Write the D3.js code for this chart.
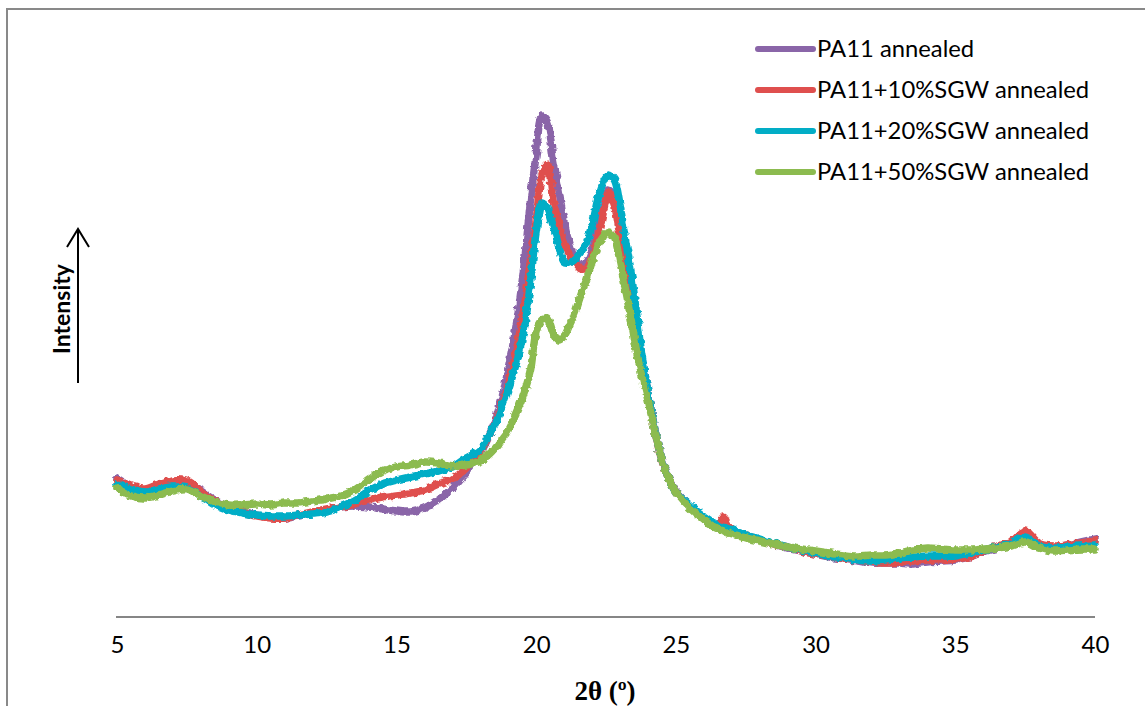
<!DOCTYPE html>
<html>
<head>
<meta charset="utf-8">
<script src="https://cdn.jsdelivr.net/npm/d3@7"></script>
<style>
  html, body { margin: 0; padding: 0; background: #fff; }
  svg { display: block; }
</style>
</head>
<body>
<svg id="chart" width="1145" height="706"></svg>
<script>
// 2θ sampling grid (degrees)
const twoTheta = [
  5, 5.5, 6, 6.5, 7, 7.5, 8, 8.5, 9, 9.5, 10, 10.5, 11, 11.5, 12, 12.5, 13, 13.5, 14, 14.5, 15, 15.5, 16, 16.5, 17, 17.5, 18,
  18.2, 18.4, 18.6, 18.8, 19, 19.2, 19.4, 19.6, 19.8, 20, 20.2, 20.4, 20.6, 20.8, 21, 21.2, 21.4, 21.6, 21.8, 22,
  22.2, 22.4, 22.6, 22.8, 23, 23.2, 23.4, 23.6, 23.8, 24, 24.2, 24.4, 24.6, 24.8,
  25, 25.5, 26, 26.5, 26.7, 27, 27.5, 28, 28.5, 29, 29.5, 30, 30.5, 31, 31.5, 32, 32.5, 33, 33.5, 34, 34.5,
  35, 35.5, 36, 36.5, 37, 37.5, 38, 38.5, 39, 39.5, 40
];

// Diffracted intensity (a.u.) for each sample
const pa11 = [
  138, 130, 127, 131, 136, 135, 126, 117, 110, 106, 102, 100, 99, 101, 104, 107, 110, 111, 110, 108, 106, 105, 109, 117, 129, 145, 164,
  174, 187, 202, 222, 249, 277, 314, 360, 417, 462, 501, 495, 460, 429, 395, 372, 358, 351, 354, 367,
  387, 410, 427, 419, 387, 363, 332, 292, 257, 225, 195, 169, 150, 136,
  126, 111, 99, 91, 89, 86, 81, 77, 73, 69, 66, 63, 60, 58, 56, 54, 54, 54, 53, 55, 56,
  57, 60, 65, 69, 72, 77, 72, 70, 72, 75, 78
];
const pa11Sgw10 = [
  136, 131, 128, 133, 137, 136, 125, 116, 110, 105, 101, 99, 99, 102, 105, 108, 110, 113, 117, 120, 122, 124, 127, 133, 138, 149, 165,
  175, 186, 199, 215, 232, 255, 282, 314, 357, 397, 441, 453, 417, 395, 375, 362, 354, 348, 349, 359,
  379, 405, 425, 412, 382, 357, 327, 289, 254, 223, 193, 167, 148, 135,
  125, 111, 100, 92, 100, 86, 82, 77, 73, 70, 66, 63, 61, 58, 57, 55, 54, 55, 56, 57, 57,
  58, 60, 66, 71, 75, 86, 74, 71, 72, 74, 76
];
const pa11Sgw20 = [
  133, 128, 125, 128, 130, 129, 121, 112, 107, 104, 102, 101, 101, 102, 103, 105, 110, 117, 126, 133, 137, 140, 143, 146, 150, 159, 167,
  176, 186, 197, 212, 227, 245, 265, 292, 335, 385, 414, 409, 392, 372, 355, 354, 358, 365, 374, 392,
  417, 434, 442, 437, 412, 377, 345, 302, 259, 225, 194, 168, 149, 135,
  125, 112, 101, 92, 90, 87, 82, 78, 74, 70, 67, 64, 61, 59, 57, 56, 57, 59, 60, 61, 61,
  61, 64, 67, 70, 73, 80, 71, 69, 70, 71, 72
];
const pa11Sgw50 = [
  129, 121, 119, 122, 126, 128, 121, 115, 112, 112, 113, 112, 114, 114, 116, 118, 121, 127, 137, 146, 150, 152, 155, 154, 151, 152, 156,
  160, 165, 171, 179, 187, 199, 212, 227, 247, 285, 297, 299, 285, 277, 281, 292, 305, 322, 337, 355,
  371, 380, 385, 379, 355, 327, 297, 265, 239, 217, 192, 168, 149, 135,
  125, 109, 97, 88, 86, 83, 79, 76, 73, 70, 68, 66, 64, 62, 61, 62, 62, 64, 67, 69, 68,
  67, 67, 68, 69, 71, 75, 69, 66, 67, 68, 68
];

const seriesNames = ["PA11 annealed", "PA11+10%SGW annealed", "PA11+20%SGW annealed", "PA11+50%SGW annealed"];
const seriesColors = ["#8a65a8", "#df4f4e", "#02adc6", "#8cbb4f"];
const xTicks = [5, 10, 15, 20, 25, 30, 35, 40];

const seriesValues = [pa11, pa11Sgw10, pa11Sgw20, pa11Sgw50];

const svg = d3.select("#chart");

// slight roughness on the trace edges, like a counting-noise band
const defs = svg.append("defs");
const rough = defs.append("filter")
  .attr("id", "rough")
  .attr("x", "-2%").attr("y", "-5%")
  .attr("width", "104%").attr("height", "110%");
rough.append("feTurbulence")
  .attr("type", "fractalNoise")
  .attr("baseFrequency", "0.2")
  .attr("numOctaves", 2)
  .attr("seed", 3)
  .attr("result", "noise");
rough.append("feDisplacementMap")
  .attr("in", "SourceGraphic")
  .attr("in2", "noise")
  .attr("scale", 5)
  .attr("xChannelSelector", "R")
  .attr("yChannelSelector", "G");

// outer chart frame
svg.append("rect")
  .attr("x", 7).attr("y", 9)
  .attr("width", 1400).attr("height", 900)
  .attr("fill", "none")
  .attr("stroke", "#898989")
  .attr("stroke-width", 2);

const x = d3.scaleLinear().domain([5, 40]).range([117, 1095]);
const y = d3.scaleLinear().domain([0, 600]).range([617, 17]);

// x axis: plain baseline, labels only
const xAxis = d3.axisBottom(x)
  .tickValues(xTicks)
  .tickSize(0)
  .tickPadding(28)
  .tickFormat(d3.format("d"));

const gx = svg.append("g")
  .attr("transform", `translate(0,${y(0)})`)
  .call(xAxis);
gx.select(".domain")
  .attr("stroke", "#868686")
  .attr("stroke-width", 2)
  .attr("d", `M${x(5) - 1},0H${x(40)}`);
gx.selectAll(".tick text")
  .attr("font-family", "Lato, 'Open Sans', sans-serif")
  .attr("font-size", 24)
  .attr("fill", "#000")
  .attr("dy", "0.32em");

// axis titles
svg.append("text")
  .attr("x", 605).attr("y", 700)
  .attr("text-anchor", "middle")
  .attr("font-family", "'Liberation Serif', 'DejaVu Serif', serif")
  .attr("font-weight", "bold")
  .attr("font-size", 27)
  .text("2θ (º)");

svg.append("text")
  .attr("transform", "translate(70,309) rotate(-90)")
  .attr("text-anchor", "middle")
  .attr("font-family", "Lato, 'Open Sans', sans-serif")
  .attr("font-weight", "bold")
  .attr("font-size", 23)
  .text("Intensity");

// intensity arrow
svg.append("line")
  .attr("x1", 78).attr("y1", 383)
  .attr("x2", 78).attr("y2", 229)
  .attr("stroke", "#000").attr("stroke-width", 2);
svg.append("path")
  .attr("d", "M67,247L78,229L89,247")
  .attr("fill", "none")
  .attr("stroke", "#000").attr("stroke-width", 2);

// diffraction patterns
const line = d3.line()
  .x((d, i) => x(twoTheta[i]))
  .y(d => y(d))
  .curve(d3.curveCatmullRom.alpha(0.5));

svg.append("g")
  .attr("filter", "url(#rough)")
  .selectAll("path")
  .data(seriesValues)
  .join("path")
  .attr("d", d => line(d))
  .attr("fill", "none")
  .attr("stroke", (d, i) => seriesColors[i])
  .attr("stroke-width", 7.5)
  .attr("stroke-linejoin", "round")
  .attr("stroke-linecap", "round");

// legend
const legend = svg.append("g").attr("transform", "translate(758,49)");
const items = legend.selectAll("g")
  .data(seriesNames)
  .join("g")
  .attr("transform", (d, i) => `translate(0,${i * 41})`);
items.append("line")
  .attr("x1", 0).attr("x2", 55)
  .attr("stroke", (d, i) => seriesColors[i])
  .attr("stroke-width", 6)
  .attr("stroke-linecap", "round");
items.append("text")
  .attr("x", 59).attr("y", 8)
  .attr("font-family", "Lato, 'Open Sans', sans-serif")
  .attr("font-size", 23.8)
  .attr("fill", "#000")
  .text(d => d);
</script>
</body>
</html>
